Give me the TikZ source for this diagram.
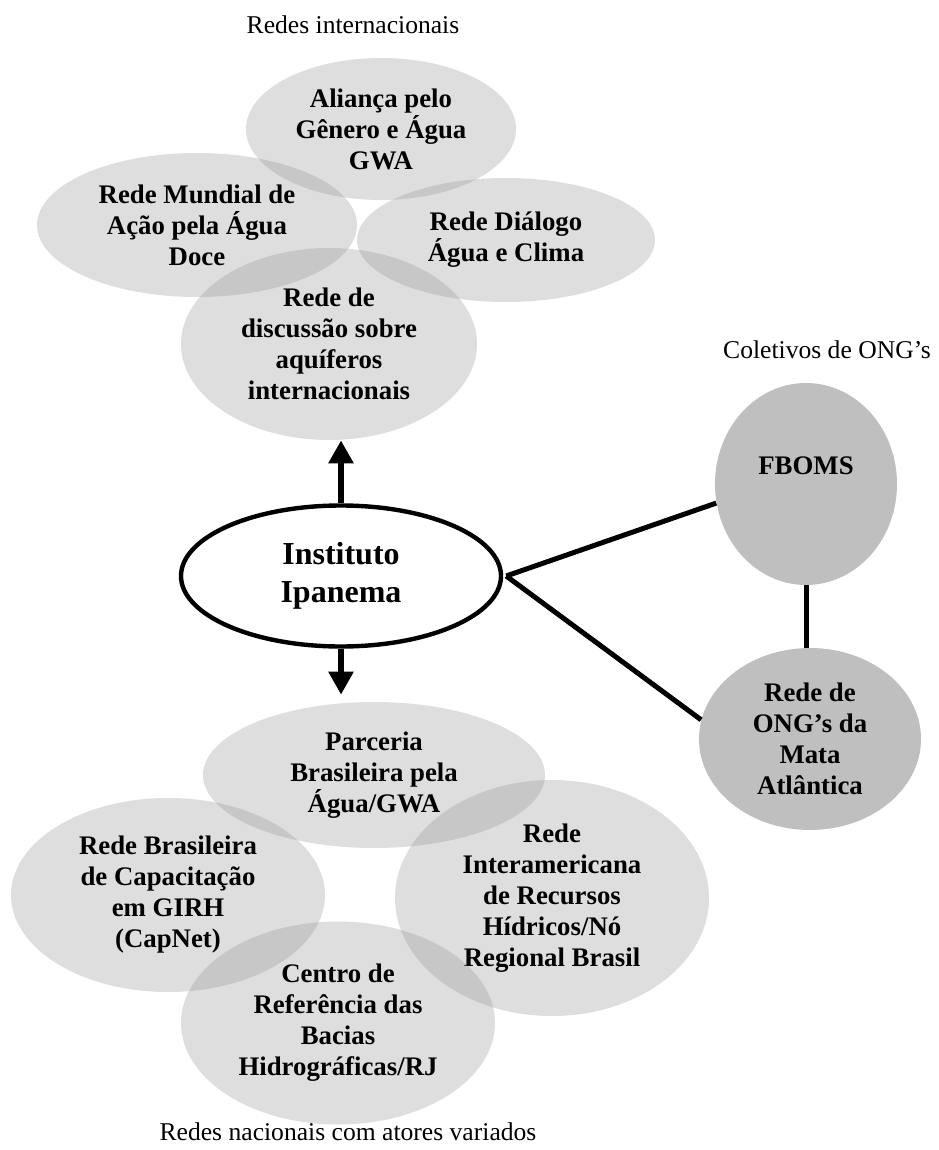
\documentclass[tikz,border=0pt]{standalone}
\usepackage{fontspec}
\setmainfont{Liberation Serif}
\usetikzlibrary{arrows.meta, positioning, shapes.geometric}
\tikzset{rede/.style={ellipse, fill=black!42, fill opacity=0.31, text opacity=1, inner sep=0pt, align=center, font=\fontsize{13.4}{15.5}\selectfont\bfseries},
  coletivo/.style={ellipse, fill=black!25, inner sep=0pt, align=center, font=\fontsize{13.4}{15.5}\selectfont\bfseries},
  titulo/.style={font=\fontsize{12.8}{15}\selectfont},
  liga/.style={line width=2.5pt},
  seta/.style={line width=3pt, -{Triangle[width=12pt,length=11.5pt]}}}

\begin{document}
\begin{tikzpicture}[x=0.5pt, y=-0.5pt]
\useasboundingbox (0,0) rectangle (938,1150);
%% redes internacionais
	\node[titulo] (tint) at (353, 25) {Redes internacionais};
	\node[rede, minimum width=135pt, minimum height=71pt] (alianca) at (381, 129) {Aliança pelo\\Gênero e Água\\GWA};
	\node[rede, minimum width=160pt, minimum height=72pt] (mundial) at (197, 225) {Rede Mundial de\\Ação pela Água\\Doce};
	\node[rede, minimum width=149pt, minimum height=62pt] (dialogo) at (506, 240) {Rede Diálogo\\Água e Clima};
	\node[rede, minimum width=148pt, minimum height=96pt] (discussao) at (329, 344) {Rede de\\discussão sobre\\aquíferos\\internacionais};
%% redes nacionais
	\node[rede, minimum width=171pt, minimum height=73pt] (parceria) at (374, 775) {Parceria\\Brasileira pela\\Água/GWA};
	\node[rede, minimum width=157pt, minimum height=97pt] (capnet) at (168, 895) {Rede Brasileira\\de Capacitação\\em GIRH\\(CapNet)};
	\node[rede, minimum width=157pt, minimum height=118pt] (interamericana) at (552, 898) {Rede\\Interamericana\\de Recursos\\Hídricos/Nó\\Regional Brasil};
	\node[rede, minimum width=157pt, minimum height=101.5pt] (centro) at (338, 1023) {Centro de\\Referência das\\Bacias\\Hidrográficas/RJ};
	\node[titulo] (tnac) at (348, 1132) {Redes nacionais com atores variados};
%% centro
	\node[ellipse, draw, line width=2.2pt, fill=white, minimum width=160pt, minimum height=70.5pt, inner sep=0pt, align=center,
	  font=\fontsize{16}{19}\selectfont\bfseries] (ipanema) at (341, 576) {Instituto\\Ipanema};
  \draw[seta] (ipanema.north) -- (ipanema.north |- discussao.south);
  \draw[seta, shorten >=3.5pt] (ipanema.south) -- (ipanema.south |- parceria.north);
%% coletivos de ONG's
	\node[titulo] (tong) at (827, 350) {Coletivos de ONG’s};
	\node[coletivo, minimum width=91pt, minimum height=101pt] (fboms) at (806, 484) {FBOMS\\[3pt]~};
	\node[coletivo, minimum width=111pt, minimum height=91pt] (mata) at (810, 739) {Rede de\\ONG’s da\\Mata\\Atlântica};
  \draw[liga] ([xshift=1.5pt]ipanema.east) -- (fboms.192);
  \draw[liga] ([xshift=1.5pt]ipanema.east) -- (mata.170);
  \draw[liga] (fboms.south) -- (fboms.south |- mata.north);
\end{tikzpicture}
\end{document}
